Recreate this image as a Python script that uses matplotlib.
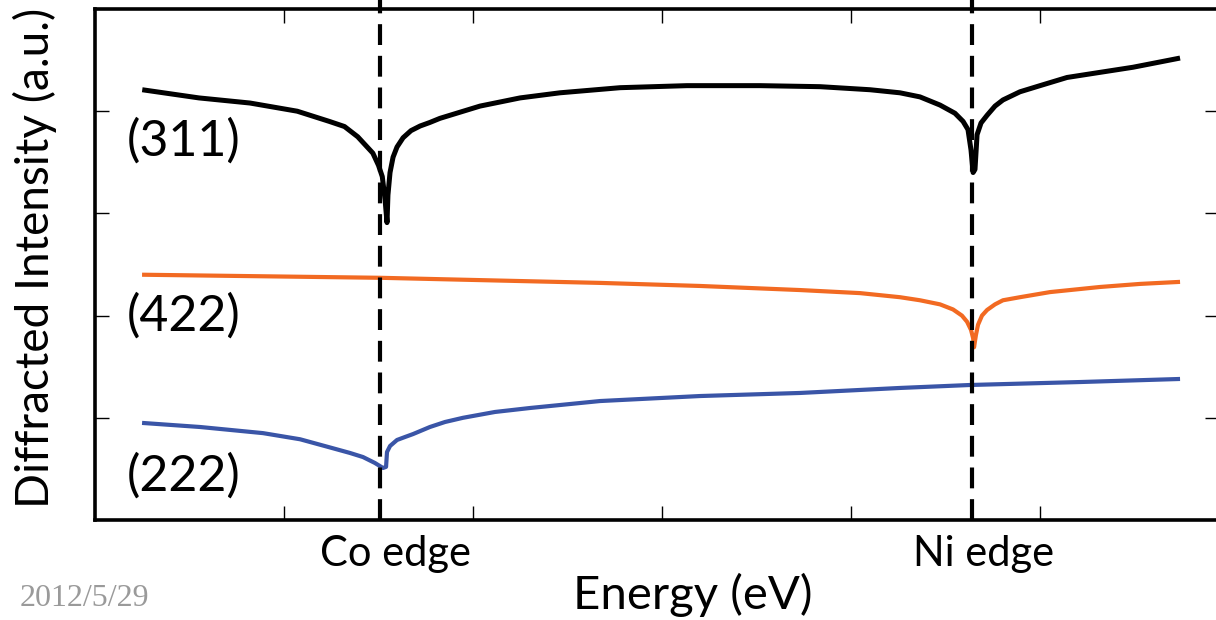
import matplotlib
matplotlib.use("Agg")
import matplotlib.pyplot as plt

# Energy axis in arbitrary units (no numeric tick labels are shown)
energy_311 = [0.25, 0.55, 0.82, 1.07, 1.24, 1.32, 1.39, 1.43, 1.47, 1.50, 1.52, 1.535, 1.545,
              1.550, 1.561, 1.577, 1.598, 1.630, 1.672, 1.720, 1.772, 1.825, 2.037, 2.249,
              2.460, 2.778, 3.132, 3.519, 3.836, 4.101, 4.259, 4.365, 4.471, 4.550, 4.593,
              4.619, 4.635, 4.646, 4.656, 4.667, 4.688, 4.720, 4.762, 4.804, 4.894, 5.000,
              5.143, 5.317, 5.492, 5.741]
intensity_311 = [4.21, 4.13, 4.08, 4.00, 3.90, 3.85, 3.75, 3.67, 3.59, 3.47, 3.36, 3.13, 2.91,
                 3.18, 3.40, 3.55, 3.65, 3.74, 3.81, 3.855, 3.89, 3.93, 4.05, 4.13,
                 4.18, 4.23, 4.25, 4.25, 4.24, 4.21, 4.18, 4.14, 4.06, 3.98, 3.90,
                 3.82, 3.62, 3.40, 3.43, 3.77, 3.885, 3.96, 4.05, 4.11, 4.19, 4.25,
                 4.33, 4.38, 4.43, 4.52]

energy_422 = [0.249, 1.508, 2.672, 3.201, 3.730, 4.048, 4.259, 4.365, 4.471, 4.540, 4.587,
              4.614, 4.635, 4.646, 4.651, 4.661, 4.672, 4.693, 4.720, 4.762, 4.804, 4.894,
              5.053, 5.317, 5.529, 5.741]
intensity_422 = [2.40, 2.37, 2.32, 2.29, 2.25, 2.22, 2.18, 2.15, 2.11, 2.06, 2.00,
                 1.94, 1.86, 1.78, 1.69, 1.81, 1.91, 2.00, 2.055, 2.11, 2.15, 2.18,
                 2.23, 2.28, 2.31, 2.33]

energy_222 = [0.249, 0.556, 0.889, 1.085, 1.243, 1.349, 1.418, 1.481, 1.524, 1.540, 1.545,
              1.561, 1.598, 1.640, 1.683, 1.772, 1.852, 1.947, 2.116, 2.302, 2.672, 3.201,
              3.730, 4.259, 4.630, 5.212, 5.741]
intensity_222 = [0.95, 0.91, 0.85, 0.79, 0.71, 0.656, 0.616, 0.558, 0.509, 0.52, 0.665,
                 0.724, 0.783, 0.812, 0.841, 0.91, 0.959, 1.00, 1.057, 1.096, 1.164, 1.213,
                 1.243, 1.292, 1.321, 1.350, 1.38]

edge_names = ["Co edge", "Ni edge"]
edge_positions = [1.508, 4.640]
edge_label_positions = [1.59, 4.70]

reflection_labels = ["(311)", "(422)", "(222)"]
reflection_label_y = [3.71, 1.99, 0.43]

fig = plt.figure(figsize=(12.16, 6.2), dpi=100)
ax = fig.add_axes([95 / 1216, 100 / 620, 1124 / 1216, 511 / 620])

ax.plot(energy_311, intensity_311, color="black", lw=3.6, solid_joinstyle="round",
        solid_capstyle="butt", zorder=3)
ax.plot(energy_422, intensity_422, color="#F26A22", lw=3.0, solid_joinstyle="round",
        solid_capstyle="butt", zorder=3)
ax.plot(energy_222, intensity_222, color="#3A55A7", lw=3.0, solid_joinstyle="round",
        solid_capstyle="butt", zorder=3)

for xe in edge_positions:
    ax.axvline(xe, ymin=0, ymax=1.02, color="black", lw=3.0,
               dashes=(5, 2.6), clip_on=False, zorder=4)

ax.set_xlim(0, 1124 / 189)
ax.set_ylim(0, 5)
ax.set_xticks([1, 2, 3, 4, 5])
ax.set_yticks([1, 2, 3, 4])
ax.tick_params(direction="in", length=10, width=1.0, top=True, right=True,
               labelbottom=False, labelleft=False)
for s in ax.spines.values():
    s.set_linewidth(2.6)

font = ["Lato", "DejaVu Sans"]
for lab, yl in zip(reflection_labels, reflection_label_y):
    ax.text(0.17, yl, lab, fontsize=36, family=font, va="center", ha="left")

for name, xl in zip(edge_names, edge_label_positions):
    ax.text(xl, -0.33, name, fontsize=30, family=font, ha="center", va="center",
            transform=ax.transData, clip_on=False)

fig.text(693 / 1216, 1 - 595 / 620, "Energy (eV)", fontsize=34, family=font,
         ha="center", va="center")
fig.text(35 / 1216, 1 - 258 / 620, "Diffracted Intensity (a.u.)", fontsize=33,
         family=font, rotation=90, ha="center", va="center")
fig.text(20 / 1216, 1 - 598 / 620, "2012/5/29", fontsize=23, color="#9a9a9a",
         family=["Liberation Serif"], ha="left", va="center")

fig.savefig("out.png", dpi=100)
